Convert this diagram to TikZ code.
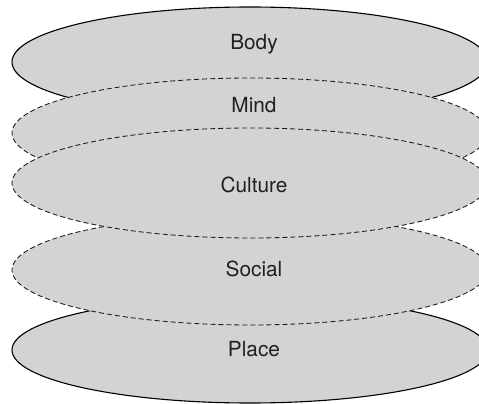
\documentclass[tikz,border=0pt]{standalone}
\usepackage{fontspec}
\setmainfont{TeX Gyre Heros}
\begin{document}
\begin{tikzpicture}[x=1pt,y=1pt,
  layer/.style={fill=layergray},
  solidedge/.style={draw=black,line width=1.1pt},
  dashedge/.style={draw=black!90,line width=0.85pt,dash pattern=on 5pt off 3pt},
  lbl/.style={anchor=base,font=\fontsize{20.8}{24}\selectfont,text=textgray,inner sep=0pt}]
\definecolor{layergray}{RGB}{209,211,213}
\definecolor{textgray}{RGB}{35,31,32}
\useasboundingbox (0,0) rectangle (479,404);
\clip (0,0) rectangle (479,404);
% Body
\path[layer,solidedge] (250,404-62) ellipse [x radius=238, y radius=55];
% Mind
\path[layer,dashedge] (250,404-133) ellipse [x radius=238, y radius=55];
% Place
\path[layer,solidedge] (250,404-350) ellipse [x radius=238, y radius=53];
% Social
\path[layer,dashedge] (250,404-270) ellipse [x radius=238, y radius=55];
% Culture
\path[layer,dashedge] (250,404-183) ellipse [x radius=238, y radius=55];
\node[lbl] (body) at (254,404-50) {Body};
\node[lbl] (mind) at (254,404-113) {Mind};
\node[lbl] (culture) at (254,404-193) {Culture};
\node[lbl] (social) at (254,404-277) {Social};
\node[lbl] (place) at (254,404-357) {Place};
\end{tikzpicture}
\end{document}
